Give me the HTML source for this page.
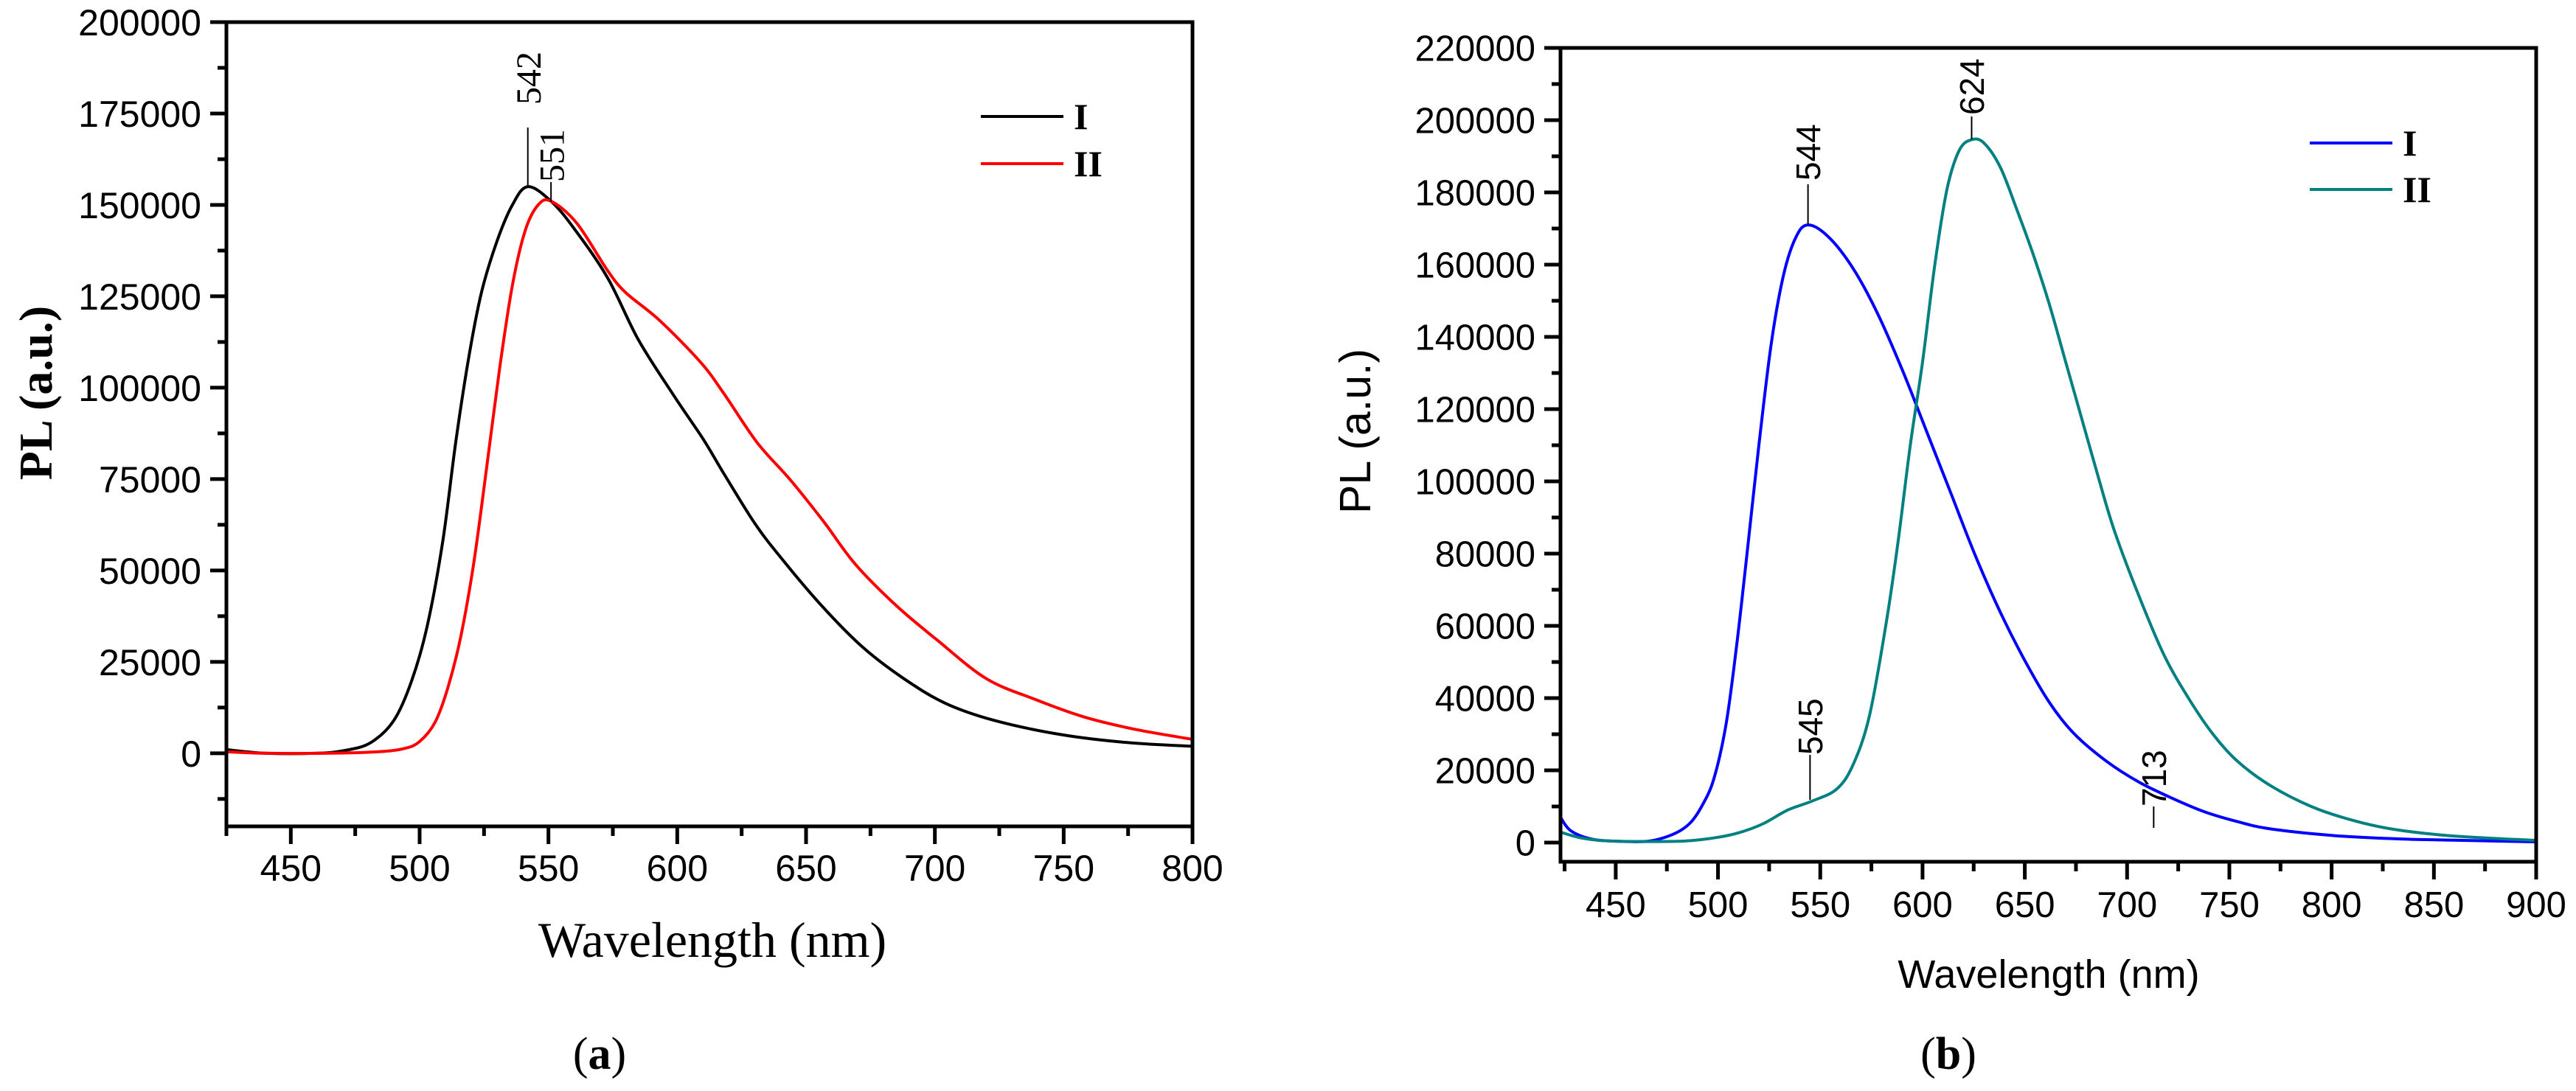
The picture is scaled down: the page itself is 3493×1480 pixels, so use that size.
<!DOCTYPE html>
<html><head><meta charset="utf-8"><style>
html,body{margin:0;padding:0;background:#fff}
svg{display:block}
.tk{font-family:"Liberation Sans",sans-serif;fill:#000}
.tm{font-family:"Liberation Serif",serif;fill:#000}
</style></head><body>
<svg id="fig" xmlns="http://www.w3.org/2000/svg" width="3493" height="1480" viewBox="0 0 3493 1480">
<rect width="3493" height="1480" fill="#fff"/>
<g id="chartA"></g>
<g id="chartB"></g>
<text class="tm" x="813" y="1450" font-size="62" text-anchor="middle">(<tspan font-weight="bold">a</tspan>)</text>
<text class="tm" x="2642" y="1450" font-size="62" text-anchor="middle">(<tspan font-weight="bold">b</tspan>)</text>
</svg>
<script>
// ---- Chart A data ----
const aXTicks = [450,500,550,600,650,700,750,800];
const aYTicks = [0,25000,50000,75000,100000,125000,150000,175000,200000];
const aIx = [425,440,460,471,481,490,497,503,509,514,519,524,530,536,542,551,560,573,585,599,610,618,630,640,656,672,688,704,723,749,775,800];
const aIy = [1000,0,0,760,2900,9000,20000,35000,58000,85000,108000,126000,140000,150000,155000,151000,143500,130000,113000,97500,86000,76600,63000,53700,40400,29000,20400,13700,9000,5100,2900,1900];
const aIIx = [425,440,465,484,494,500,506,511,516,521,526,531,536,541,546,551,561,573,580,593,609,618,631,644,657,669,685,701,720,739,758,778,800];
const aIIy = [400,0,0,400,1300,3200,8500,18000,32000,52000,78000,105000,128000,143000,150000,151000,145000,132000,126000,118500,107000,98500,85000,74700,63200,51800,40400,30900,20400,14700,9900,6500,3800];
// ---- Chart B data ----
const bXTicks = [450,500,550,600,650,700,750,800,850,900];
const bYTicks = [0,20000,40000,60000,80000,100000,120000,140000,160000,180000,200000,220000];
const bIx = [423,428,438,450,466,478,486,492,498,504,509,514,520,526,532,538,544,554,566,578,590,602,614,626,638,650,662,674,690,706,722,738,754,770,802,834,866,900];
const bIy = [7000,3300,1000,400,400,2300,5200,10000,17700,33000,54000,79000,110000,138000,157000,167500,171000,167700,159000,146500,131000,113800,96500,79200,63800,50400,38800,30200,22500,16700,12300,8500,5800,3800,1900,1000,600,200];
const bIIx = [423,434,450,482,498,510,522,534,546,558,566,574,582,588,594,600,606,612,618,624,630,638,646,654,662,670,678,686,694,706,718,730,742,754,770,790,810,830,858,900];
const bIIy = [2900,1200,400,400,1300,2700,5200,9000,11500,14800,21500,35000,60000,83100,110000,133000,160000,181000,191700,194600,193700,187000,175400,163000,149000,133000,117000,101000,86000,68000,52000,40000,30000,22500,15800,10000,6200,3700,1900,600];

const NS='http://www.w3.org/2000/svg';
function mk(tag, attrs, parent){const e=document.createElementNS(NS,tag);for(const k in attrs)e.setAttribute(k,attrs[k]);parent.appendChild(e);return e;}
function smooth(pts){let d='M'+pts[0][0].toFixed(1)+','+pts[0][1].toFixed(1);
 for(let i=0;i<pts.length-1;i++){const p0=pts[i-1]||pts[i],p1=pts[i],p2=pts[i+1],p3=pts[i+2]||p2;
  const c1=[p1[0]+(p2[0]-p0[0])/6,p1[1]+(p2[1]-p0[1])/6],c2=[p2[0]-(p3[0]-p1[0])/6,p2[1]-(p3[1]-p1[1])/6];
  d+='C'+c1[0].toFixed(1)+','+c1[1].toFixed(1)+' '+c2[0].toFixed(1)+','+c2[1].toFixed(1)+' '+p2[0].toFixed(1)+','+p2[1].toFixed(1);}
 return d;}

function drawChart(g, c){
 const X=v=>c.L+(v-c.xmin)/(c.xmax-c.xmin)*(c.R-c.L);
 const Y=v=>c.B-(v-c.ymin)/(c.ymax-c.ymin)*(c.B-c.T);
 c.series.forEach(s=>{
  const p=mk('path',{d:smooth(s.x.map((v,i)=>[X(v),Y(s.y[i])])),fill:'none',stroke:s.color,'stroke-width':4,'stroke-linejoin':'round'},g);
  
  
 });
 const fr=mk('rect',{x:c.L,y:c.T,width:c.R-c.L,height:c.B-c.T,fill:'none',stroke:'#000','stroke-width':5},g);
 
 
 for(let v=c.ymin0;v<=c.ymax;v+=c.yminor){ if(v<c.ymin) continue;
  const major=c.yTicks.includes(v);
  const t=mk('line',{x1:c.L,x2:c.L-(major?22:12),y1:Y(v),y2:Y(v),stroke:'#000','stroke-width':5},g);
  
  
 }
 c.yTicks.forEach(v=>{const t=mk('text',{class:'tk',x:c.L-34,y:Y(v)+c.fs*0.36,'font-size':c.fs,'text-anchor':'end'},g);t.textContent=v;
  
  });
 for(let v=c.xmin0;v<=c.xmax;v+=25){ if(v<c.xmin) continue;
  const major=c.xTicks.includes(v);
  const t=mk('line',{x1:X(v),x2:X(v),y1:c.B,y2:c.B+(major?24:13),stroke:'#000','stroke-width':5},g);
  
  
 }
 c.xTicks.forEach(v=>{const t=mk('text',{class:'tk',x:X(v),y:c.B+c.xlabOff,'font-size':c.fs,'text-anchor':'middle'},g);t.textContent=v;
  
  });
 c.ann.forEach(a=>{
  const l=mk('line',{x1:X(a.x),x2:X(a.x),y1:a.y1,y2:a.y2,stroke:'#000','stroke-width':2},g);
  
  
  const t=mk('text',{class:c.annClass,x:0,y:0,'font-size':c.afs,transform:`translate(${X(a.x)+c.afs*0.36},${a.ty}) rotate(-90)`},g);
  t.textContent=a.label;
  
  
 });
 c.series.forEach((s,i)=>{
  const y=c.legY+i*c.legDy;
  const l=mk('line',{x1:c.legX,x2:c.legX+112,y1:y,y2:y,stroke:s.color,'stroke-width':4},g);
  
  
  const t=mk('text',{class:'tm',x:c.legX+126,y:y+17,'font-size':50,'font-weight':'bold'},g);
  t.textContent=s.label;
  
  
 });
 const xt=mk('text',{class:c.titleClass,x:c.xtX,y:c.xtY,'font-size':c.xtfs,'text-anchor':'middle'},g);
 xt.textContent='Wavelength (nm)';
 
 
 const yt=mk('text',{class:c.titleClass,x:0,y:0,'font-size':c.ytfs,'font-weight':c.ytw,'text-anchor':'middle',transform:`translate(${c.ytX},${c.ytY}) rotate(-90)`},g);
 yt.textContent='PL (a.u.)';
 
 
}

drawChart(document.getElementById('chartA'),{
 L:307,R:1617,T:30,B:1121,xmin:425,xmax:800,ymin:-20000,ymax:200000,ymin0:-12500,yminor:12500,xmin0:425,
 xTicks:aXTicks,yTicks:aYTicks,fs:50,xlabOff:74,afs:48,annClass:'tm',
 series:[{x:aIx,y:aIy,color:'#000',label:'I',name:'series-I-line'},{x:aIIx,y:aIIy,color:'#ff0000',label:'II',name:'series-II-line'}],
 ann:[{x:542,y1:173,y2:253,label:'542',ty:142},{x:551,y1:247,y2:274,label:'551',ty:247}],
 legX:1330,legY:158,legDy:64,
 titleClass:'tm',xtX:966,xtY:1298,xtfs:68,ytX:70,ytY:533,ytfs:64,ytw:'bold'
});
drawChart(document.getElementById('chartB'),{
 L:2116,R:3439,T:65,B:1169,xmin:423,xmax:900,ymin:-5300,ymax:220000,ymin0:0,yminor:10000,xmin0:425,
 xTicks:bXTicks,yTicks:bYTicks,fs:49,xlabOff:75,afs:46,annClass:'tk',
 series:[{x:bIx,y:bIy,color:'#0000ff',label:'I',name:'series-I-line'},{x:bIIx,y:bIIy,color:'#008080',label:'II',name:'series-II-line'}],
 ann:[{x:544,y1:250,y2:304,label:'544',ty:245},{x:624,y1:158,y2:189,label:'624',ty:156},{x:545,y1:1024,y2:1085,label:'545',ty:1024},{x:713,y1:1094,y2:1123,label:'713',ty:1094}],
 legX:3132,legY:194,legDy:63,
 titleClass:'tk',xtX:2778,xtY:1340,xtfs:54,ytX:1858,ytY:585,ytfs:59,ytw:'normal'
});
</script>
</body></html>
